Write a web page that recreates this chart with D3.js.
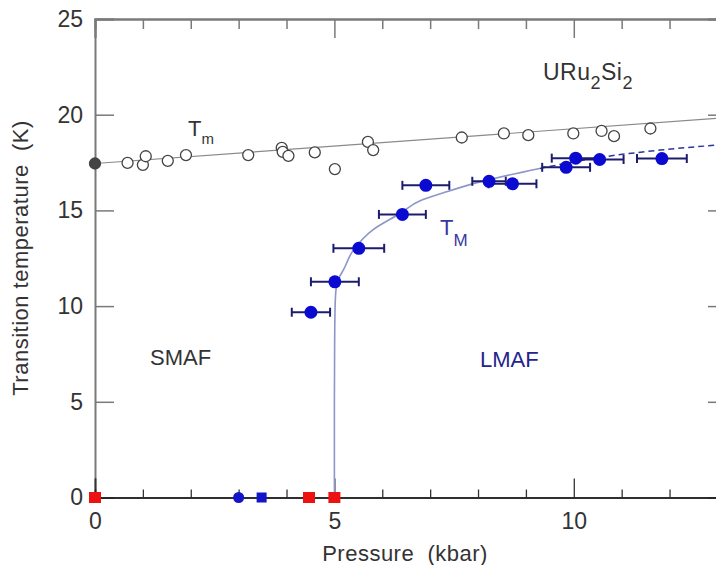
<!DOCTYPE html>
<html lang="en">
<head>
<meta charset="UTF-8">
<title>URu2Si2 phase diagram</title>
<script src="https://cdn.jsdelivr.net/npm/d3@7"></script>
<style>
  body { margin: 0; background: #fff; }
  svg { display: block; font-family: "Liberation Sans", Arial, sans-serif; }
</style>
</head>
<body>
<div id="chart"></div>
<script>
// T_m : open circles (pressure in kbar, temperature in K)
var tmPressure = [0, 0.68, 1.0, 1.06, 1.52, 1.9, 3.2, 3.9, 3.92, 4.04, 4.59, 5.01, 5.7, 5.81, 7.66, 8.54, 9.05, 9.99, 10.58, 10.84, 11.6];
var tmTemp     = [17.45, 17.48, 17.38, 17.83, 17.59, 17.89, 17.89, 18.27, 18.06, 17.85, 18.03, 17.16, 18.58, 18.15, 18.81, 19.02, 18.93, 19.02, 19.15, 18.88, 19.28];
// straight guide line through T_m
var tmLineP = [0, 13.2];
var tmLineT = [17.45, 19.85];

// T_M : filled blue circles with pressure error bars
var bigPressure = [4.51, 5.01, 5.51, 6.42, 6.91, 8.23, 8.72, 9.84, 10.04, 10.54, 11.84];
var bigTemp     = [9.68, 11.27, 13.02, 14.79, 16.31, 16.52, 16.39, 17.25, 17.73, 17.66, 17.71];
var bigErr      = [0.4, 0.5, 0.53, 0.49, 0.49, 0.35, 0.5, 0.5, 0.5, 0.5, 0.52];

// T_M guide curve
var fitP = [5.0, 5.0, 5.005, 5.015, 5.04, 5.1, 5.18, 5.39, 5.81, 6.37, 6.79, 7.34, 8.04, 9.29, 10.5, 11.8, 13.2];
var fitT = [0, 5, 8, 10, 11, 11.5, 11.85, 12.9, 14.0, 14.84, 15.5, 15.97, 16.49, 17.19, 17.75, 18.15, 18.45];

// markers on the T = 0 line
var redSquareP  = [0, 4.47, 5.0];
var blueSquareP = [3.48];
var blueDotP    = [3.0];

// ticks
var xMajor = [0, 5, 10];
var xMinor = [1, 2, 3, 4, 6, 7, 8, 9, 11, 12, 13];
var yMajor = [0, 5, 10, 15, 20, 25];

var w = 716, h = 565;
var svg = d3.select("#chart").append("svg")
    .attr("width", w)
    .attr("height", h);
svg.append("rect").attr("width", w).attr("height", h).attr("fill", "#fff");

var x = d3.scaleLinear().domain([0, 13.2]).range([95, 727]);
var y = d3.scaleLinear().domain([0, 25]).range([497.5, 19]);

var axisGrey = "#7a7a7a";
var textCol = "#333";

// ---- axes ----
// top axis (ticks only, pointing down)
var topAxis = svg.append("g").attr("transform", "translate(0," + y(25) + ")");
topAxis.call(d3.axisTop(x).tickValues(xMinor).tickSize(-10).tickFormat(""));
topAxis.append("g").call(d3.axisTop(x).tickValues(xMajor).tickSize(-19).tickFormat(""));

// right axis (outside the window, only ticks show)
svg.append("g").attr("transform", "translate(" + x(13.2) + ",0)")
    .call(d3.axisRight(y).tickValues(yMajor).tickSize(-19).tickFormat(""));

// left axis
svg.append("g").attr("class", "yaxis").attr("transform", "translate(" + x(0) + ",0)")
    .call(d3.axisLeft(y).tickValues(yMajor).tickSize(-19).tickPadding(12));

// bottom axis
var bottomAxis = svg.append("g").attr("class", "xaxis").attr("transform", "translate(0," + y(0) + ")");
bottomAxis.call(d3.axisBottom(x).tickValues(xMajor).tickSize(-19).tickPadding(15));
bottomAxis.append("g").call(d3.axisBottom(x).tickValues(xMinor).tickSize(-8).tickFormat(""));

svg.selectAll(".domain").attr("stroke", axisGrey).attr("stroke-width", 2);
svg.selectAll(".tick line").attr("stroke", axisGrey).attr("stroke-width", 1.5);
bottomAxis.selectAll(".domain").attr("stroke", "#222").attr("stroke-width", 1.5);
bottomAxis.selectAll(".tick line").attr("stroke", "#333").attr("stroke-width", 1.3);
svg.selectAll(".tick text")
    .attr("font-size", "23px")
    .attr("font-family", "Liberation Sans, Arial, sans-serif")
    .attr("fill", textCol);

// axis titles
svg.append("text")
    .attr("x", 405).attr("y", 561)
    .attr("text-anchor", "middle")
    .attr("font-size", "22px")
    .attr("letter-spacing", "0.5px")
    .attr("fill", textCol)
    .attr("xml:space", "preserve")
    .text("Pressure  (kbar)");

svg.append("text")
    .attr("transform", "translate(28,258) rotate(-90)")
    .attr("text-anchor", "middle")
    .attr("font-size", "22px")
    .attr("letter-spacing", "0.5px")
    .attr("fill", textCol)
    .attr("xml:space", "preserve")
    .text("Transition temperature  (K)");

// ---- T_m line and open circles ----
var tmLine = d3.line()
    .x(function(d, i) { return x(tmLineP[i]); })
    .y(function(d, i) { return y(tmLineT[i]); });
svg.append("path")
    .datum(tmLineP)
    .attr("d", tmLine)
    .attr("fill", "none")
    .attr("stroke", "#8a8a8a")
    .attr("stroke-width", 1.2);

svg.selectAll("circle.tm")
    .data(tmPressure)
    .enter().append("circle")
    .attr("class", "tm")
    .attr("cx", function(d) { return x(d); })
    .attr("cy", function(d, i) { return y(tmTemp[i]); })
    .attr("r", 5.5)
    .attr("fill", function(d) { return d === 0 ? "#444" : "#fff"; })
    .attr("stroke", "#444")
    .attr("stroke-width", 1.3);

// ---- T_M guide curve ----
var fitPts = fitP.map(function(p, i) { return [p, fitT[i]]; });
var solidPts = fitPts.filter(function(d) { return d[0] <= 9.29; }).reverse();
var dashPts = fitPts.filter(function(d) { return d[0] >= 9.29; });

var fitLine = d3.line()
    .x(function(d) { return x(d[0]); })
    .y(function(d) { return y(d[1]); });

svg.append("path")
    .datum(solidPts)
    .attr("d", fitLine.curve(d3.curveMonotoneY))
    .attr("fill", "none")
    .attr("stroke", "#8c96c8")
    .attr("stroke-width", 1.6);

svg.append("path")
    .datum(dashPts)
    .attr("d", fitLine.curve(d3.curveMonotoneX))
    .attr("fill", "none")
    .attr("stroke", "#2a36a0")
    .attr("stroke-width", 1.5)
    .attr("stroke-dasharray", "6,4");

// ---- T_M error bars and points ----
var errCol = "#1c1c6e";
var errs = svg.selectAll("g.err")
    .data(bigPressure)
    .enter().append("g")
    .attr("class", "err");
errs.append("line")
    .attr("x1", function(d, i) { return x(d - bigErr[i]); })
    .attr("x2", function(d, i) { return x(d + bigErr[i]); })
    .attr("y1", function(d, i) { return y(bigTemp[i]); })
    .attr("y2", function(d, i) { return y(bigTemp[i]); })
    .attr("stroke", errCol).attr("stroke-width", 2);
errs.append("line")
    .attr("x1", function(d, i) { return x(d - bigErr[i]); })
    .attr("x2", function(d, i) { return x(d - bigErr[i]); })
    .attr("y1", function(d, i) { return y(bigTemp[i]) - 4.5; })
    .attr("y2", function(d, i) { return y(bigTemp[i]) + 4.5; })
    .attr("stroke", errCol).attr("stroke-width", 2);
errs.append("line")
    .attr("x1", function(d, i) { return x(d + bigErr[i]); })
    .attr("x2", function(d, i) { return x(d + bigErr[i]); })
    .attr("y1", function(d, i) { return y(bigTemp[i]) - 4.5; })
    .attr("y2", function(d, i) { return y(bigTemp[i]) + 4.5; })
    .attr("stroke", errCol).attr("stroke-width", 2);

svg.selectAll("circle.big")
    .data(bigPressure)
    .enter().append("circle")
    .attr("class", "big")
    .attr("cx", function(d) { return x(d); })
    .attr("cy", function(d, i) { return y(bigTemp[i]); })
    .attr("r", 6.5)
    .attr("fill", "#0a0ad0");

// ---- markers on the axis ----
svg.selectAll("rect.red")
    .data(redSquareP)
    .enter().append("rect")
    .attr("class", "red")
    .attr("x", function(d) { return x(d) - 6; })
    .attr("y", y(0) - 5.5)
    .attr("width", 12).attr("height", 11)
    .attr("fill", "#ee1111");

svg.selectAll("rect.blue")
    .data(blueSquareP)
    .enter().append("rect")
    .attr("class", "blue")
    .attr("x", function(d) { return x(d) - 5; })
    .attr("y", y(0) - 5)
    .attr("width", 10).attr("height", 10)
    .attr("fill", "#1414c8");

svg.selectAll("circle.bdot")
    .data(blueDotP)
    .enter().append("circle")
    .attr("class", "bdot")
    .attr("cx", function(d) { return x(d); })
    .attr("cy", y(0))
    .attr("r", 5.5)
    .attr("fill", "#1414c8");

// ---- annotations ----
var tmLabel = svg.append("text").attr("x", 188).attr("y", 136)
    .attr("font-size", "22px").attr("fill", textCol);
tmLabel.append("tspan").text("T");
tmLabel.append("tspan").attr("dy", 8).attr("font-size", "15px").text("m");

var tMLabel = svg.append("text").attr("x", 440).attr("y", 235)
    .attr("font-size", "22px").attr("fill", "#3838a0");
tMLabel.append("tspan").text("T");
tMLabel.append("tspan").attr("dy", 11).attr("font-size", "17px").text("M");

var comp = svg.append("text").attr("x", 543).attr("y", 80)
    .attr("font-size", "23px").attr("letter-spacing", "0.5px").attr("fill", textCol);
comp.append("tspan").text("URu");
comp.append("tspan").attr("dy", 9).attr("font-size", "18px").text("2");
comp.append("tspan").attr("dy", -9).text("Si");
comp.append("tspan").attr("dy", 9).attr("font-size", "18px").text("2");

svg.append("text").attr("x", 150).attr("y", 365)
    .attr("font-size", "22px").attr("fill", textCol)
    .text("SMAF");

svg.append("text").attr("x", 480).attr("y", 367)
    .attr("font-size", "22px").attr("fill", "#24248c")
    .text("LMAF");
</script>
</body>
</html>
